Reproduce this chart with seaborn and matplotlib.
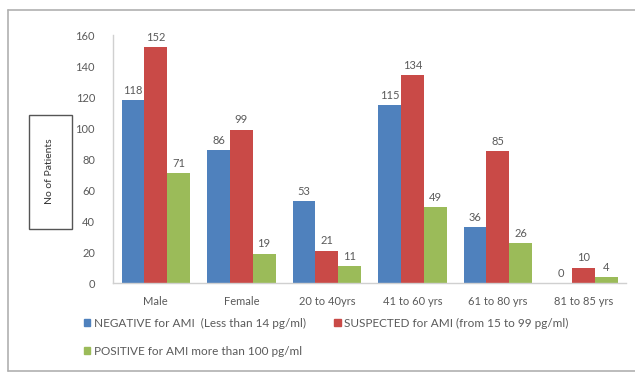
import matplotlib
matplotlib.use("Agg")
import matplotlib.pyplot as plt
from matplotlib.patches import Rectangle
from matplotlib.lines import Line2D
import pandas as pd
import seaborn as sns

categories = ["Male", "Female", "20 to 40yrs", "41 to 60 yrs", "61 to 80 yrs", "81 to 85 yrs"]
series_names = [
    "NEGATIVE for AMI  (Less than 14 pg/ml)",
    "SUSPECTED for AMI (from 15 to 99 pg/ml)",
    "POSITIVE for AMI more than 100 pg/ml",
]
negative = [118, 86, 53, 115, 36, 0]
suspected = [152, 99, 21, 134, 85, 10]
positive = [71, 19, 11, 49, 26, 4]
y_ticks = [0, 20, 40, 60, 80, 100, 120, 140, 160]
colors = ["#4F81BD", "#C94A47", "#9BBB59"]

rows = []
for name, vals in zip(series_names, [negative, suspected, positive]):
    for cat, v in zip(categories, vals):
        rows.append({"group": cat, "series": name, "count": v})
df = pd.DataFrame(rows)

sns.set_theme(style="white")
plt.rcParams["font.family"] = ["Lato", "DejaVu Sans"]

fig = plt.figure(figsize=(6.35, 3.73), dpi=100)
fig.patch.set_facecolor("white")
ax = fig.add_axes([0.178, 0.241, 0.808, 0.665])

sns.barplot(data=df, x="group", y="count", hue="series", order=categories,
            hue_order=series_names, palette=colors, width=0.8, saturation=1,
            ax=ax, legend=False, linewidth=0)

ax.set_ylim(0, 160)
ax.set_xlim(-0.5, len(categories) - 0.5)
ax.set_yticks(y_ticks)
ax.set_yticklabels([str(t) for t in y_ticks])
ax.tick_params(axis="both", length=0, labelsize=8, colors="#5a5a5a")
ax.tick_params(axis="y", pad=13)
ax.tick_params(axis="x", pad=9)
ax.set_xlabel("")
ax.set_ylabel("")
for side in ["top", "right"]:
    ax.spines[side].set_visible(False)
for side in ["left", "bottom"]:
    ax.spines[side].set_color("#d0d0d0")
    ax.spines[side].set_linewidth(1.0)

# value labels above each bar
for container in ax.containers:
    ax.bar_label(container, fmt="%d", padding=3, fontsize=8, color="#5a5a5a")

# boxed y-axis title
fig.text(50 / 635, 1 - 171 / 373, "No of Patients", rotation=90, ha="center",
         va="center", fontsize=7.5, color="#333333")
fig.patches.append(Rectangle((29 / 635, 1 - 229 / 373), 43 / 635, 114 / 373,
                             transform=fig.transFigure, fill=False,
                             edgecolor="#555555", linewidth=1.0))

# chart-area frame
frame_kw = dict(transform=fig.transFigure, color="#b0b0b0", linewidth=1.2)
fig.lines.append(Line2D([8 / 635, 8 / 635], [1 - 10 / 373, 1 - 371 / 373], **frame_kw))
fig.lines.append(Line2D([8 / 635, 1.0], [1 - 10 / 373, 1 - 10 / 373], **frame_kw))
fig.lines.append(Line2D([8 / 635, 1.0], [1 - 371 / 373, 1 - 371 / 373], **frame_kw))

handles = [Rectangle((0, 0), 1, 1, color=c) for c in colors]
order = [0, 2, 1]
leg = fig.legend([handles[i] for i in order], [series_names[i] for i in order],
                 ncol=2, loc="upper left", bbox_to_anchor=(84 / 635, 1 - 318 / 373),
                 frameon=False, fontsize=8.5, handlelength=0.55, handleheight=0.55,
                 handletextpad=0.3, columnspacing=2.4, labelspacing=1.4,
                 borderaxespad=0, borderpad=0)
for t in leg.get_texts():
    t.set_color("#5a5a5a")

fig.savefig("out.png", dpi=100, facecolor="white")
